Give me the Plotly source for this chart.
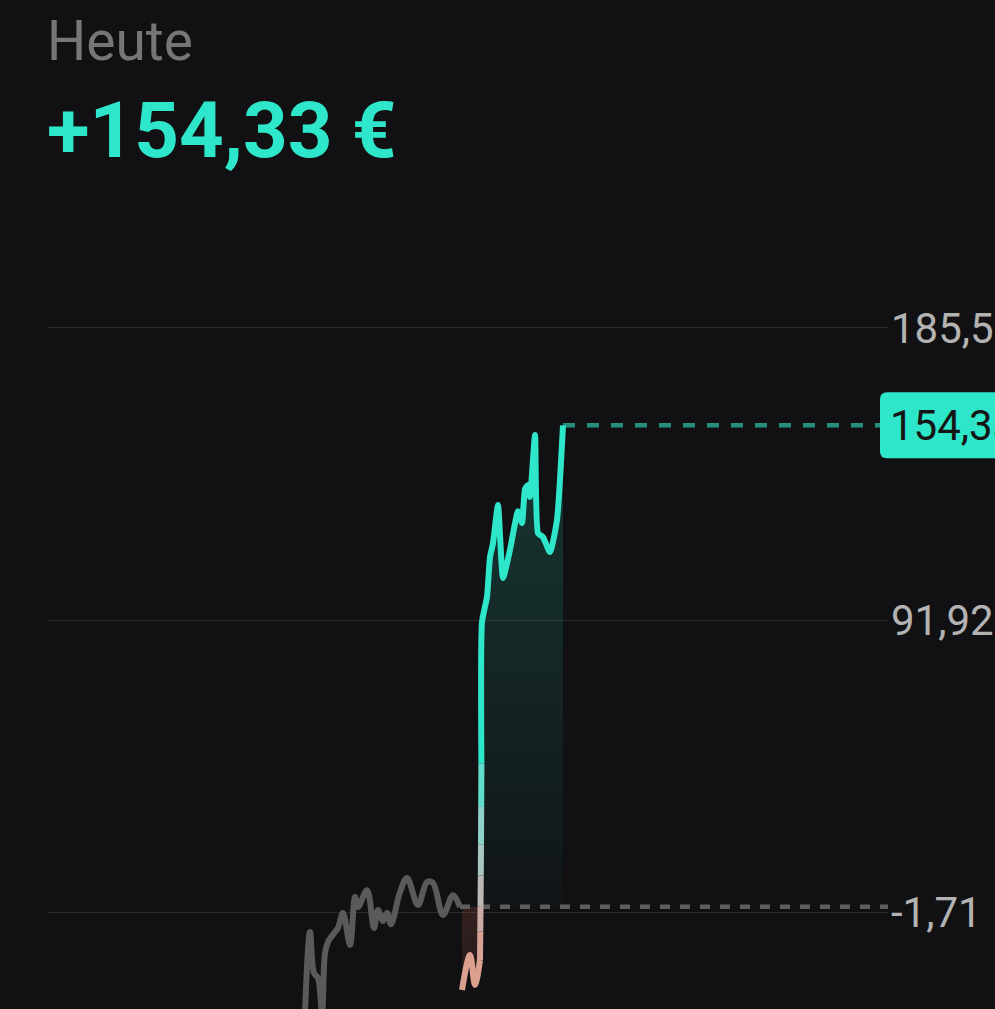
import plotly.graph_objects as go

# ---------------- data ----------------
# time axis in arbitrary units (0 .. 840 across the chart)
gray_x = [257, 262, 266, 270, 274, 277, 280, 287, 290, 295, 302, 307, 310, 319,
          326, 330, 335, 339, 343, 352, 359, 370, 379, 385, 395, 405, 412]
gray_y = [-33.8, -8.1, -21.3, -22.9, -33.8, -14.9, -11.3, -8.1, -6.8, -2.0, -12.3,
          3.1, -0.1, 5.3, -6.8, -1.1, -4.6, -2.0, -5.6, 4.7, 9.2, 0.5, 7.9, 7.6,
          -2.7, 3.7, -0.1]

red_x = [414, 422, 427, 432]
red_y = [-26.7, -15.5, -25.1, -17.1]

rise_x = [432, 432.3, 432.5, 432.8, 433, 433.2, 433.4]   # steep rise, colour shifts red -> teal
rise_y = [-17.1, -8.0, 0.0, 10.0, 20.0, 32.0, 46.0]
rise_colors = ["#d6a394", "#c8aca5", "#bbb9b6", "#a9c6c1", "#8ed3c9", "#62ddcb"]

teal_x = [433.4, 434, 439, 442, 445, 450, 455, 462, 470, 474, 477, 480, 482, 487,
          490, 495, 502, 509, 515]
teal_y = [46.0, 91.3, 99.3, 112.1, 116.5, 128.8, 105.4, 114.4, 126.8, 123.0, 133.9,
          135.2, 131.4, 151.2, 119.8, 118.5, 113.7, 124.0, 154.33]

baseline = 0.0
last_value = 154.33
x_end = 840

tick_vals = [-1.71, 91.92, 185.55]
tick_text = ["-1,71", "91,92", "185,55"]
title_small = "Heute"
title_big = "+154,33 €"
last_label = "154,33"

# ---------------- styling ----------------
BG = "#111113"
TEAL = "#2ee6c9"
GRAY_LINE = "#5a5a5a"
FONT = "Roboto"
LW = 6

fig = go.Figure()

# red fill (below baseline)
fill_red_x = red_x + rise_x[1:3]
fill_red_y = red_y + rise_y[1:3]
fig.add_trace(go.Scatter(x=[fill_red_x[0], fill_red_x[-1]], y=[baseline, baseline],
                         mode="lines", line=dict(width=0), hoverinfo="skip",
                         showlegend=False))
fig.add_trace(go.Scatter(x=fill_red_x, y=fill_red_y, mode="lines",
                         line=dict(width=0, shape="spline", smoothing=0.8),
                         fill="tonexty",
                         fillgradient=dict(type="vertical", start=-27, stop=0,
                                           colorscale=[[0, "rgba(200,110,90,0.10)"],
                                                       [1, "rgba(170,85,70,0.22)"]]),
                         hoverinfo="skip", showlegend=False))

# teal fill (above baseline)
fill_teal_x = rise_x[2:] + teal_x[1:]
fill_teal_y = rise_y[2:] + teal_y[1:]
fig.add_trace(go.Scatter(x=[fill_teal_x[0], fill_teal_x[-1]], y=[baseline, baseline],
                         mode="lines", line=dict(width=0), hoverinfo="skip",
                         showlegend=False))
fig.add_trace(go.Scatter(x=fill_teal_x, y=fill_teal_y, mode="lines",
                         line=dict(width=0, shape="spline", smoothing=0.5),
                         fill="tonexty",
                         fillgradient=dict(type="vertical", start=0, stop=155,
                                           colorscale=[[0, "rgba(40,200,175,0.02)"],
                                                       [1, "rgba(40,200,175,0.21)"]]),
                         hoverinfo="skip", showlegend=False))

# dashed reference lines
fig.add_trace(go.Scatter(x=[gray_x[-1], x_end], y=[baseline, baseline], mode="lines",
                         line=dict(color="#5e5e5e", width=4.5, dash="10px,10px"),
                         hoverinfo="skip", showlegend=False))
fig.add_trace(go.Scatter(x=[teal_x[-1], x_end - 8], y=[last_value, last_value],
                         mode="lines",
                         line=dict(color="#26907e", width=4.5, dash="12px,12px"),
                         hoverinfo="skip", showlegend=False))

# gray (earlier) line
fig.add_trace(go.Scatter(x=gray_x, y=gray_y, mode="lines",
                         line=dict(color=GRAY_LINE, width=LW, shape="spline", smoothing=1.0),
                         hoverinfo="skip", showlegend=False))
# red part
fig.add_trace(go.Scatter(x=red_x, y=red_y, mode="lines",
                         line=dict(color="#dca08f", width=LW, shape="spline", smoothing=1.0),
                         hoverinfo="skip", showlegend=False))
# colour-shifting rise
for i in range(len(rise_x) - 1):
    fig.add_trace(go.Scatter(x=rise_x[i:i + 2], y=rise_y[i:i + 2], mode="lines",
                             line=dict(color=rise_colors[i], width=LW),
                             hoverinfo="skip", showlegend=False))
# teal line
fig.add_trace(go.Scatter(x=teal_x, y=teal_y, mode="lines",
                         line=dict(color=TEAL, width=LW, shape="spline", smoothing=0.5),
                         hoverinfo="skip", showlegend=False))

# label box for the last value
r = 7
w0, w1, h = -8, 130, 33
box_path = (f"M {w0 + r},{-h} L {w1 - r},{-h} Q {w1},{-h} {w1},{-h + r} "
            f"L {w1},{h - r} Q {w1},{h} {w1 - r},{h} L {w0 + r},{h} "
            f"Q {w0},{h} {w0},{h - r} L {w0},{-h + r} Q {w0},{-h} {w0 + r},{-h} Z")
fig.add_shape(type="path", xref="paper", yref="y", xsizemode="pixel", ysizemode="pixel",
              xanchor=1, yanchor=last_value, path=box_path,
              fillcolor=TEAL, line=dict(width=0), layer="above")

fig.add_annotation(text=last_label, xref="paper", yref="y", x=1, y=last_value,
                   xanchor="left", yanchor="middle", xshift=0, showarrow=False,
                   font=dict(family=FONT, size=42, color="#151515"))

fig.add_annotation(text=title_small, xref="paper", yref="paper", x=0, y=1.1965,
                   xanchor="left", yanchor="middle", xshift=-3, showarrow=False,
                   font=dict(family=FONT, size=55, color="#767676"))
fig.add_annotation(text=f"<b>{title_big}</b>", xref="paper", yref="paper", x=0, y=1.0853,
                   xanchor="left", yanchor="middle", xshift=-3, showarrow=False,
                   font=dict(family=FONT, size=78, color=TEAL))

fig.update_layout(
    width=995, height=1009,
    margin=dict(l=48, r=107, t=200, b=0, pad=0),
    paper_bgcolor=BG, plot_bgcolor=BG,
    showlegend=False,
    hovermode=False,
    xaxis=dict(range=[0, x_end], visible=False, fixedrange=True),
    yaxis=dict(range=[-32.81, 226.59], side="right", tickvals=tick_vals,
               ticktext=tick_text, showgrid=True, gridcolor="#2a2a2c", gridwidth=1,
               zeroline=False, showline=False, ticks="", ticklabelstandoff=2,
               automargin=False, fixedrange=True,
               tickfont=dict(family=FONT, size=42, color="#b3b3b3")),
)

fig.write_html("out.html", config={"displayModeBar": False},
               post_script="document.body.style.margin='0';"
                           "document.body.style.overflow='hidden';"
                           "document.body.style.background='#111113';")
